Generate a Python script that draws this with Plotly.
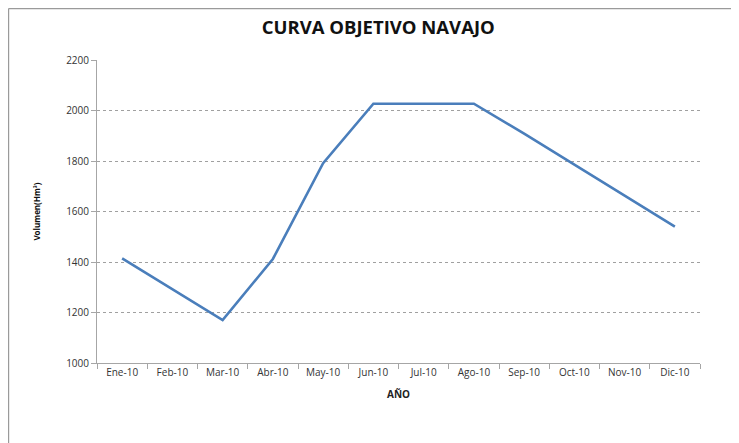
import plotly.graph_objects as go

MESES = ["Ene-10", "Feb-10", "Mar-10", "Abr-10", "May-10", "Jun-10",
         "Jul-10", "Ago-10", "Sep-10", "Oct-10", "Nov-10", "Dic-10"]
VOLUMEN = [1414, 1292, 1170, 1412, 1791, 2027, 2027, 2027, 1908, 1786, 1663, 1540]

LINE_COLOR = "#4A7EBB"
AXIS_COLOR = "#A6A6A6"
FONT = "Open Sans"

# outer chart frame (only the left and top edges show in the picture)
FX0 = -89 / 603 + 0.001
FY1 = 1 + 52 / 303 - 0.002

fig = go.Figure()
fig.add_trace(go.Scatter(
    x=MESES, y=VOLUMEN,
    mode="lines",
    line=dict(color=LINE_COLOR, width=2.6),
    hovertemplate="%{x}<br>%{y} Hm³<extra></extra>",
))

fig.update_layout(
    width=739, height=443,
    margin=dict(l=89, r=47, t=52, b=88),
    paper_bgcolor="white", plot_bgcolor="white",
    font=dict(family=FONT, color="#333333", size=10),
    showlegend=False,
    title=dict(text="<b>CURVA OBJETIVO NAVAJO</b>", x=0.501, xanchor="center",
               y=0.955, yanchor="middle",
               font=dict(size=18.5, color="#111111", family=FONT)),
    shapes=[
        dict(type="line", xref="paper", yref="paper", x0=FX0, x1=FX0, y0=-0.5, y1=FY1,
             line=dict(color="#9A9A9A", width=1.2), layer="below"),
        dict(type="line", xref="paper", yref="paper", x0=FX0, x1=1.2, y0=FY1, y1=FY1,
             line=dict(color="#9A9A9A", width=1.2), layer="below"),
    ],
)

fig.update_xaxes(
    type="category", range=[-0.5, 11.5],
    showline=True, linecolor=AXIS_COLOR, linewidth=1,
    ticks="outside", tickson="boundaries", ticklen=5, tickcolor=AXIS_COLOR,
    showgrid=False,
    tickfont=dict(size=10, color="#333333"),
    title=dict(text="<b>AÑO</b>", font=dict(size=10, color="#222222"), standoff=12),
)
fig.update_yaxes(
    range=[1000, 2200], dtick=200,
    showline=True, linecolor=AXIS_COLOR, linewidth=1,
    ticks="outside", ticklen=5, tickcolor=AXIS_COLOR,
    showgrid=True, gridcolor="#A0A0A0", griddash="3px,3px", gridwidth=1,
    zeroline=False,
    tickfont=dict(size=10, color="#333333"),
    title=dict(text="<b>Volumen(Hm³)</b>", font=dict(size=8, color="#111111"), standoff=24),
)

fig.write_html("out.html")
